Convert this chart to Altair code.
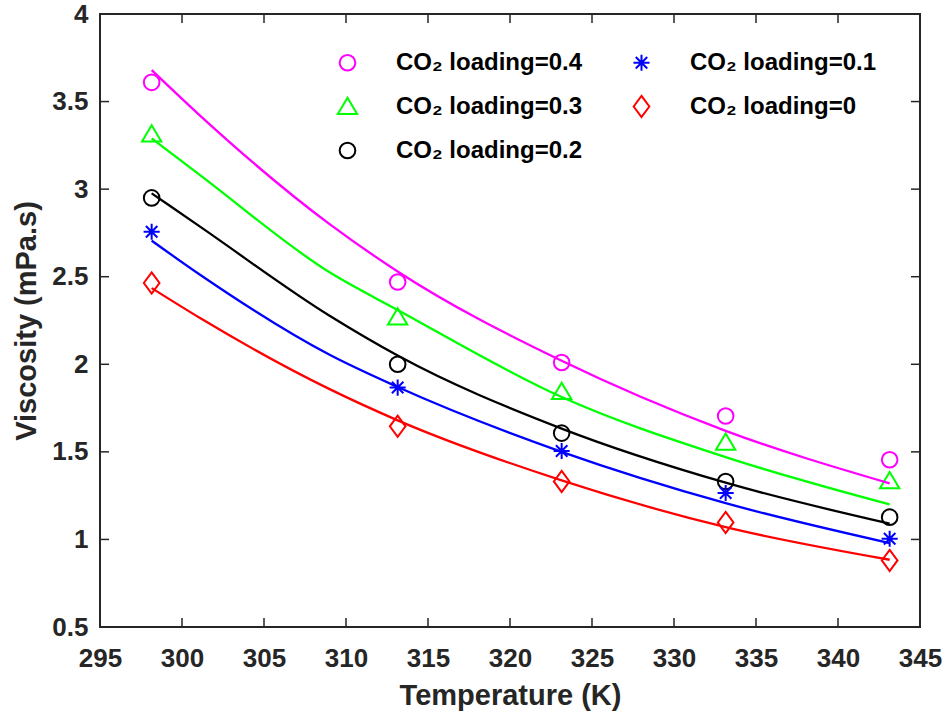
import altair as alt
import pandas as pd

# ---------------- data ----------------
temps = [298.15, 313.15, 323.15, 333.15, 343.15]

lab_04 = "CO₂ loading=0.4"
lab_03 = "CO₂ loading=0.3"
lab_02 = "CO₂ loading=0.2"
lab_01 = "CO₂ loading=0.1"
lab_00 = "CO₂ loading=0"

visc_04 = [3.61, 2.47, 2.01, 1.705, 1.455]
visc_03 = [3.315, 2.27, 1.845, 1.555, 1.335]
visc_02 = [2.95, 2.00, 1.607, 1.331, 1.127]
visc_01 = [2.757, 1.867, 1.505, 1.265, 1.004]
visc_00 = [2.464, 1.646, 1.331, 1.097, 0.88]

# fitted curves
fit_temps = [298.15, 301.1, 309.0, 313.15, 323.15, 333.15, 343.15]
fit_04 = [3.68, 3.42, 2.80, 2.53, 2.02, 1.62, 1.32]
fit_03 = [3.29, 3.08, 2.525, 2.31, 1.813, 1.47, 1.20]
fit_02 = [2.976, 2.786, 2.277, 2.05, 1.633, 1.324, 1.09]
fit_01 = [2.706, 2.511, 2.054, 1.87, 1.50, 1.207, 0.979]
fit_00 = [2.435, 2.264, 1.858, 1.68, 1.337, 1.07, 0.884]

x_ticks = [295, 300, 305, 310, 315, 320, 325, 330, 335, 340, 345]
y_ticks = [0.5, 1, 1.5, 2, 2.5, 3, 3.5, 4]

# ---------------- tables ----------------
labels = [lab_04, lab_03, lab_02, lab_01, lab_00]
pts_vals = [visc_04, visc_03, visc_02, visc_01, visc_00]
fit_vals = [fit_04, fit_03, fit_02, fit_01, fit_00]

pts = pd.DataFrame(
    [{"T": t, "V": v, "series": lab} for lab, vals in zip(labels, pts_vals) for t, v in zip(temps, vals)]
)
fits = pd.DataFrame(
    [{"T": t, "V": v, "curve": lab, "order": i}
     for lab, vals in zip(labels, fit_vals) for i, (t, v) in enumerate(zip(fit_temps, vals))]
)
xt = pd.DataFrame({"T": x_ticks[1:-1]})
yt = pd.DataFrame({"V": y_ticks[1:-1]})

domain = labels
colors = ["#FF00FF", "#00FF00", "#000000", "#0000FF", "#FF0000"]
circle = "M0.68,0A0.68,0.68 0 1,1 -0.68,0A0.68,0.68 0 1,1 0.68,0Z"
triangle = "M0,-0.76L0.84,0.66L-0.84,0.66Z"
diamond = "M0,-0.92L0.68,0L0,0.92L-0.68,0Z"
asterisk = "M-0.7,0L0.7,0M0,-0.7L0,0.7M-0.5,-0.5L0.5,0.5M-0.5,0.5L0.5,-0.5"
shapes = [circle, triangle, circle, asterisk, diamond]

W, H = 820, 613
FONT = "Liberation Sans"
AX = "#262626"

xscale = alt.Scale(domain=[295, 345], nice=False, zero=False)
yscale = alt.Scale(domain=[0.5, 4], nice=False, zero=False)

x_axis = alt.Axis(
    values=x_ticks, format="d", ticks=False, domain=False, grid=False,
    labelFont=FONT, labelFontWeight="bold", labelFontSize=26, labelColor=AX,
    labelPadding=18, labelFlush=False,
    title="Temperature (K)", titleFont=FONT, titleFontWeight="bold",
    titleFontSize=29, titleColor=AX, titlePadding=10,
)
y_axis = alt.Axis(
    values=y_ticks, format="~g", ticks=False, domain=False, grid=False,
    labelFont=FONT, labelFontWeight="bold", labelFontSize=26, labelColor=AX,
    labelPadding=12, labelFlush=False,
    title="Viscosity (mPa.s)", titleFont=FONT, titleFontWeight="bold",
    titleFontSize=29, titleColor=AX, titlePadding=10,
)

points = alt.Chart(pts).mark_point(filled=False, strokeWidth=2, size=529, opacity=1).encode(
    x=alt.X("T:Q", scale=xscale, axis=x_axis),
    y=alt.Y("V:Q", scale=yscale, axis=y_axis),
    color=alt.Color(
        "series:N",
        scale=alt.Scale(domain=domain, range=colors),
        legend=alt.Legend(
            orient="none", legendX=235, legendY=36, columns=2, title=None,
            labelFont=FONT, labelFontWeight="bold", labelFontSize=24, labelColor="#000000",
            labelLimit=400, symbolSize=529, symbolStrokeWidth=2, labelOffset=36,
            rowPadding=16, columnPadding=46, padding=0, symbolFillColor="transparent",
        ),
    ),
    shape=alt.Shape("series:N", scale=alt.Scale(domain=domain, range=shapes)),
)

lines = alt.Chart(fits).mark_line(strokeWidth=2.3, interpolate="monotone").encode(
    x=alt.X("T:Q", scale=xscale),
    y=alt.Y("V:Q", scale=yscale),
    stroke=alt.Stroke("curve:N", scale=alt.Scale(domain=domain, range=colors), legend=None),
    order="order:Q",
)

tick_style = dict(color=AX, strokeWidth=1.5)
bottom_ticks = alt.Chart(xt).mark_rule(**tick_style).encode(
    x=alt.X("T:Q", scale=xscale), y=alt.value(H), y2=alt.value(H - 9))
top_ticks = alt.Chart(xt).mark_rule(**tick_style).encode(
    x=alt.X("T:Q", scale=xscale), y=alt.value(0), y2=alt.value(9))
left_ticks = alt.Chart(yt).mark_rule(**tick_style).encode(
    y=alt.Y("V:Q", scale=yscale), x=alt.value(0), x2=alt.value(9))
right_ticks = alt.Chart(yt).mark_rule(**tick_style).encode(
    y=alt.Y("V:Q", scale=yscale), x=alt.value(W), x2=alt.value(W - 9))

chart = alt.layer(
    bottom_ticks, top_ticks, left_ticks, right_ticks, points, lines
).properties(
    width=W, height=H,
    autosize=alt.AutoSizeParams(type="none"),
    padding={"left": 100, "top": 14, "right": 25, "bottom": 92},
    background="white",
).configure_view(stroke=AX, strokeWidth=2)

chart.save("out.html", embed_options={"renderer": "svg", "actions": False})
